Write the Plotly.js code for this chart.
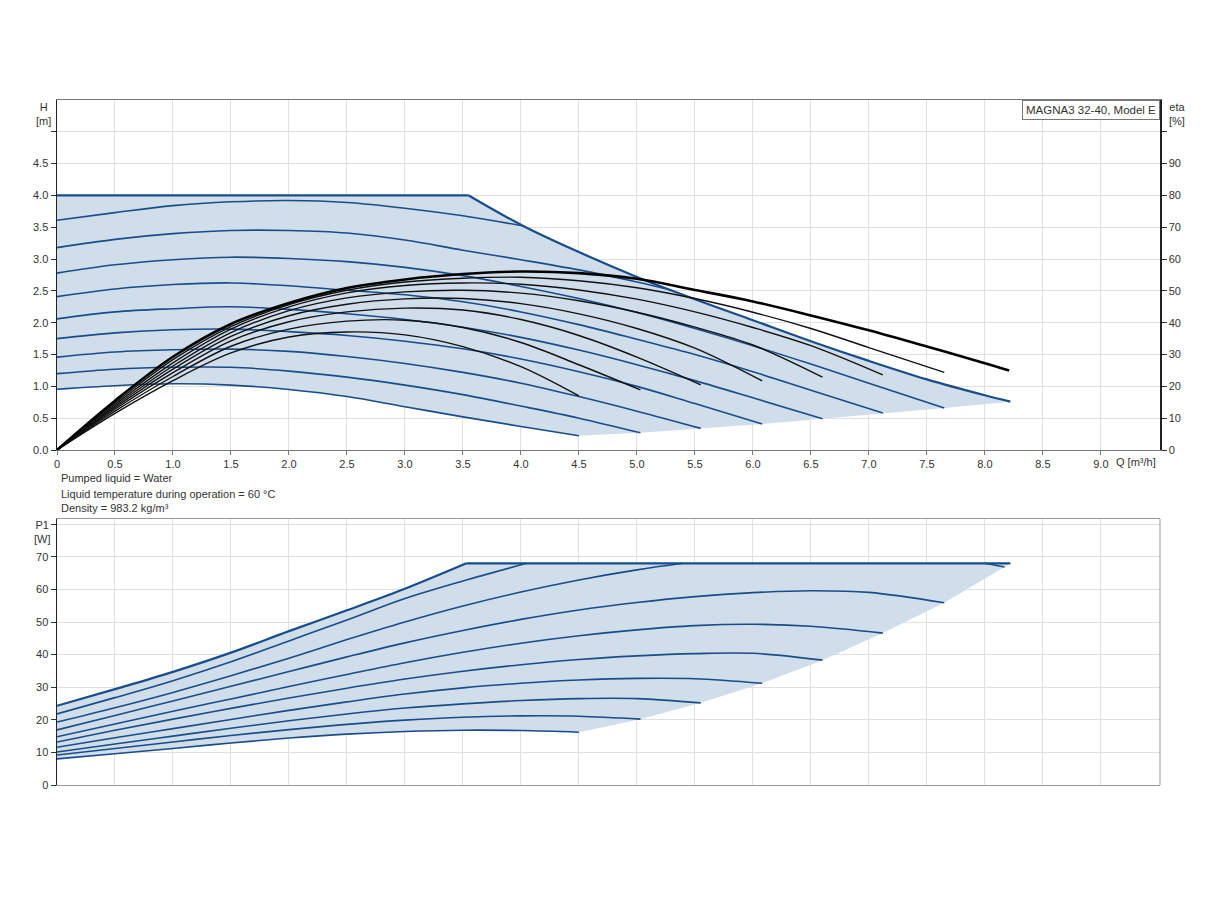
<!DOCTYPE html>
<html>
<head>
<meta charset="utf-8">
<script src="https://cdn.plot.ly/plotly-3.0.1.min.js"></script>
<style>
  html, body { margin: 0; padding: 0; background: #fff; }
  #myDiv { width: 1224px; height: 900px; }
</style>
</head>
<body>
<div id="myDiv"></div>
<script>
// flow points shared by the speed curves (m3/h)
var qS1 = [0, 0.5, 1, 1.5, 2, 2.5, 3, 3.5, 4, 4.5];
var qS2 = [0, 0.5, 1, 1.5, 2, 2.5, 3, 3.5, 4, 4.5, 5.03];
var qS3 = [0, 0.5, 1, 1.5, 2, 2.5, 3, 3.5, 4, 4.5, 5, 5.55];
var qS4 = [0, 0.5, 1, 1.5, 2, 2.5, 3, 3.5, 4, 4.5, 5, 5.5, 6.08];
var qS5 = [0, 0.5, 1, 1.5, 2, 2.5, 3, 3.5, 4, 4.5, 5, 5.5, 6, 6.6];
var qS6 = [0, 0.5, 1, 1.5, 2, 2.5, 3, 3.5, 4, 4.5, 5, 5.5, 6, 6.5, 7.12];
var qS7 = [0, 0.5, 1, 1.5, 2, 2.5, 3, 3.5, 4, 4.5, 5, 5.5, 6, 6.5, 7, 7.65];

// head H [m]
var h1 = [0.955, 1.01, 1.04, 1.02, 0.95, 0.84, 0.68, 0.52, 0.37, 0.225];
var h2 = [1.20, 1.27, 1.30, 1.30, 1.24, 1.145, 1.02, 0.87, 0.69, 0.50, 0.27];
var h3 = [1.46, 1.54, 1.575, 1.585, 1.55, 1.47, 1.36, 1.22, 1.05, 0.84, 0.61, 0.34];
var h4 = [1.75, 1.84, 1.89, 1.90, 1.86, 1.80, 1.71, 1.59, 1.43, 1.23, 1.00, 0.73, 0.41];
var h5 = [2.06, 2.17, 2.22, 2.25, 2.21, 2.14, 2.05, 1.93, 1.77, 1.57, 1.34, 1.09, 0.82, 0.49];
var h6 = [2.41, 2.53, 2.60, 2.625, 2.58, 2.51, 2.44, 2.33, 2.17, 1.97, 1.74, 1.50, 1.23, 0.94, 0.58];
var h7 = [2.78, 2.91, 2.99, 3.03, 3.01, 2.96, 2.87, 2.74, 2.57, 2.38, 2.16, 1.91, 1.64, 1.35, 1.05, 0.66];
var qH8 = [0, 0.5, 1, 1.5, 2, 2.5, 3, 3.5, 4, 4.5, 5, 5.3];
var h8 = [3.18, 3.31, 3.40, 3.45, 3.45, 3.41, 3.30, 3.14, 2.99, 2.83, 2.64, 2.51];
var qH9 = [0, 0.5, 1, 1.5, 2, 2.5, 3, 3.5, 4.02];
var h9 = [3.61, 3.73, 3.84, 3.90, 3.92, 3.89, 3.80, 3.68, 3.52];
var qEnvH = [0, 3.55, 4.02, 4.5, 5, 5.5, 6, 6.5, 7, 7.5, 8, 8.22];
var hEnv = [4, 4, 3.52, 3.11, 2.72, 2.37, 2.04, 1.71, 1.40, 1.11, 0.86, 0.76];

// efficiency eta [%]
var e1 = [0, 11.5, 21.8, 30.5, 35.5, 37.1, 36.2, 32.5, 26.2, 17.0];
var e2 = [0, 12.2, 23.1, 32.6, 38.0, 40.5, 40.8, 38.5, 33.8, 26.8, 18.9];
var e3 = [0, 12.8, 24.3, 34.3, 40.3, 43.4, 44.6, 44.0, 41.0, 36.0, 29.2, 20.5];
var e4 = [0, 13.3, 25.4, 35.7, 42.2, 45.8, 47.5, 47.6, 46.0, 42.8, 38.2, 32.0, 21.7];
var e5 = [0, 13.8, 26.4, 36.9, 43.8, 47.8, 49.7, 50.2, 49.3, 46.9, 43.3, 38.6, 33.0, 22.9];
var e6 = [0, 14.3, 27.4, 38.0, 45.0, 49.4, 51.7, 52.5, 52.1, 50.3, 47.4, 43.4, 38.5, 32.8, 23.6];
var e7 = [0, 14.8, 28.4, 38.8, 45.7, 50.2, 52.8, 54.0, 54.3, 53.2, 51.0, 47.6, 43.3, 38.2, 32.2, 24.4];
var qE8 = [0, 0.5, 1, 1.5, 2, 2.5, 3, 3.5, 4, 4.5, 5, 5.5, 6, 6.5, 7, 7.5, 8, 8.21];
var e8 = [0, 15.5, 29.3, 39.6, 46.2, 50.9, 53.6, 55.3, 56.1, 55.6, 53.8, 50.3, 46.7, 42.3, 37.6, 32.5, 27.3, 25.0];

// power input P1 [W]
var p1 = [8.0, 9.6, 11.2, 12.9, 14.4, 15.6, 16.4, 16.8, 16.7, 16.2];
var p2 = [9.2, 11.2, 13.2, 15.2, 17.0, 18.6, 19.9, 20.8, 21.2, 21.1, 20.2];
var p3 = [10.1, 12.6, 15.0, 17.4, 19.7, 21.8, 23.6, 24.9, 25.9, 26.5, 26.5, 25.2];
var p4 = [11.6, 14.5, 17.3, 20.1, 22.9, 25.5, 27.9, 29.8, 31.2, 32.2, 32.7, 32.6, 31.2];
var p5 = [13.2, 16.8, 20.2, 23.5, 26.7, 29.7, 32.5, 34.9, 36.9, 38.5, 39.6, 40.3, 40.4, 38.3];
var p6 = [14.8, 18.7, 22.6, 26.4, 30.2, 33.9, 37.5, 40.7, 43.5, 45.8, 47.6, 48.9, 49.3, 48.7, 46.6];
var p7 = [16.9, 21.3, 25.8, 30.3, 34.8, 39.3, 43.6, 47.4, 50.8, 53.7, 56.0, 57.8, 59.0, 59.6, 59.1, 55.9];
var qP8 = [0, 0.5, 1, 1.5, 2, 2.5, 3, 3.5, 4, 4.5, 5, 5.4];
var p8 = [19.3, 23.7, 28.4, 33.5, 38.9, 44.6, 50.0, 54.9, 59.2, 62.9, 66.0, 68.0];
var qP8tail = [8.0, 8.17];
var p8tail = [68.0, 66.9];
var qP9 = [0, 0.5, 1, 1.5, 2, 2.5, 3, 3.5, 4.05];
var p9 = [21.8, 26.8, 32.0, 37.8, 44.2, 50.6, 57.2, 62.6, 68.0];
var qEnvP = [0, 0.5, 1, 1.5, 2, 2.5, 3, 3.53, 8.22];
var pEnv = [24.3, 29.4, 34.7, 40.6, 47.2, 53.6, 60.2, 68.0, 68.0];

// tick labels
var qTicks = [0, 0.5, 1, 1.5, 2, 2.5, 3, 3.5, 4, 4.5, 5, 5.5, 6, 6.5, 7, 7.5, 8, 8.5, 9];
var qTickText = ['0', '0.5', '1.0', '1.5', '2.0', '2.5', '3.0', '3.5', '4.0', '4.5', '5.0', '5.5', '6.0', '6.5', '7.0', '7.5', '8.0', '8.5', '9.0'];
var hTicks = [0, 0.5, 1, 1.5, 2, 2.5, 3, 3.5, 4, 4.5, 5];
var hTickText = ['0.0', '0.5', '1.0', '1.5', '2.0', '2.5', '3.0', '3.5', '4.0', '4.5', ''];
var etaTicks = [0, 10, 20, 30, 40, 50, 60, 70, 80, 90, 100];
var etaTickText = ['0', '10', '20', '30', '40', '50', '60', '70', '80', '90', ''];
var pTicks = [0, 10, 20, 30, 40, 50, 60, 70, 80];
var pTickText = ['0', '10', '20', '30', '40', '50', '60', '70', ''];

var BLUE = '#1a4c88';
var FILL = 'rgba(208,221,234,1)';
var GRID = '#e0e0e0';

function last(a) { return a[a.length - 1]; }
function rev(a) { return a.slice().reverse(); }

// shaded working area, built from the curves above
var topFillQ = qEnvH.concat([qS7, qS6, qS5, qS4, qS3, qS2].map(last), rev(qS1));
var topFillH = hEnv.concat([h7, h6, h5, h4, h3, h2].map(last), rev(h1));
var botFillQ = qEnvP.concat([last(qP8tail)], [qS7, qS6, qS5, qS4, qS3, qS2].map(last), rev(qS1));
var botFillP = pEnv.concat([last(p8tail)], [p7, p6, p5, p4, p3, p2].map(last), rev(p1));

var data = [];

data.push({x: topFillQ, y: topFillH, xaxis: 'x', yaxis: 'y', type: 'scatter', mode: 'lines',
  fill: 'toself', fillcolor: FILL, line: {width: 0, color: FILL}, hoverinfo: 'skip'});
data.push({x: botFillQ, y: botFillP, xaxis: 'x2', yaxis: 'y3', type: 'scatter', mode: 'lines',
  fill: 'toself', fillcolor: FILL, line: {width: 0, color: FILL}, hoverinfo: 'skip'});

function curve(x, y, xa, ya, color, width, shape) {
  return {x: x, y: y, xaxis: xa, yaxis: ya, type: 'scatter', mode: 'lines',
    line: {color: color, width: width, shape: shape || 'spline'}, hoverinfo: 'skip'};
}

// H curves
var hq = [qS1, qS2, qS3, qS4, qS5, qS6, qS7, qH8, qH9];
var hv = [h1, h2, h3, h4, h5, h6, h7, h8, h9];
for (var i = 0; i < hq.length; i++) {
  data.push(curve(hq[i], hv[i], 'x', 'y', BLUE, 1.6));
}
// max curve: flat head limit, then the power limited part
data.push(curve(qEnvH.slice(0, 2), hEnv.slice(0, 2), 'x', 'y', BLUE, 2.2, 'linear'));
data.push(curve(qEnvH.slice(1), hEnv.slice(1), 'x', 'y', BLUE, 2.2));

// P1 curves
var pq = [qS1, qS2, qS3, qS4, qS5, qS6, qS7, qP8, qP9];
var pv = [p1, p2, p3, p4, p5, p6, p7, p8, p9];
for (var j = 0; j < pq.length; j++) {
  data.push(curve(pq[j], pv[j], 'x2', 'y3', BLUE, 1.6));
}
data.push(curve(qP8tail, p8tail, 'x2', 'y3', BLUE, 1.6, 'linear'));
data.push(curve(qEnvP.slice(0, 8), pEnv.slice(0, 8), 'x2', 'y3', BLUE, 2.2));
data.push(curve(qEnvP.slice(7), pEnv.slice(7), 'x2', 'y3', BLUE, 2.2, 'linear'));

// eta curves (right axis)
var eq = [qS1, qS2, qS3, qS4, qS5, qS6, qS7];
var ev = [e1, e2, e3, e4, e5, e6, e7];
for (var k = 0; k < eq.length; k++) {
  data.push(curve(eq[k], ev[k], 'x', 'y2', '#111', 1.4));
}
data.push(curve(qE8, e8, 'x', 'y2', '#000', 2.6));

// pixel -> paper helpers for the fixed texts
function px(x) { return (x - 57) / 1103; }
function py(y) { return (785 - y) / 685; }

var txt = {family: 'Liberation Sans, Arial, sans-serif', size: 11, color: '#333'};

var layout = {
  width: 1224,
  height: 900,
  margin: {l: 57, r: 64, t: 100, b: 115, pad: 0},
  paper_bgcolor: '#fff',
  plot_bgcolor: '#fff',
  showlegend: false,
  font: txt,
  xaxis: {domain: [0, 1], anchor: 'y', range: [0, 9.51], tickvals: qTicks, ticktext: qTickText,
    showgrid: true, gridcolor: GRID, zeroline: false, showline: true, linecolor: '#777', mirror: true,
    ticks: 'outside', ticklen: 4, tickcolor: '#777', tickfont: txt},
  yaxis: {domain: [0.48905, 1], anchor: 'x', range: [0, 5.5], tickvals: hTicks, ticktext: hTickText,
    showgrid: true, gridcolor: GRID, zeroline: false, showline: true, linecolor: '#222', linewidth: 1.5,
    ticks: 'outside', ticklen: 5, tickcolor: '#333', tickfont: txt},
  yaxis2: {overlaying: 'y', side: 'right', anchor: 'x', range: [0, 110], tickvals: etaTicks, ticktext: etaTickText,
    showgrid: false, zeroline: false, showline: true, linecolor: '#222', linewidth: 1.5,
    ticks: 'outside', ticklen: 5, tickcolor: '#333', tickfont: txt},
  xaxis2: {domain: [0, 1], anchor: 'y3', range: [0, 9.51], tickvals: qTicks, showticklabels: false,
    showgrid: true, gridcolor: GRID, zeroline: false, showline: true, linecolor: '#999', mirror: true, ticks: ''},
  yaxis3: {domain: [0, 0.38832], anchor: 'x2', range: [0, 81.6], tickvals: pTicks, ticktext: pTickText,
    showgrid: true, gridcolor: GRID, zeroline: false, showline: true, linecolor: '#222', linewidth: 1.5,
    ticks: 'outside', ticklen: 5, tickcolor: '#333', tickfont: txt},
  shapes: [
    {type: 'line', xref: 'paper', yref: 'paper', x0: 1, x1: 1, y0: 0, y1: 0.38832,
      line: {color: '#999', width: 1}}
  ],
  annotations: [
    {text: 'H<br>[m]', x: px(43), y: py(99), xref: 'paper', yref: 'paper', xanchor: 'center', yanchor: 'top', showarrow: false, font: txt},
    {text: 'eta<br>[%]', x: px(1177), y: py(99), xref: 'paper', yref: 'paper', xanchor: 'center', yanchor: 'top', showarrow: false, font: txt},
    {text: 'Q [m³/h]', x: px(1114), y: py(462), xref: 'paper', yref: 'paper', xanchor: 'left', yanchor: 'middle', showarrow: false, font: txt},
    {text: 'P1<br>[W]', x: px(42), y: py(517), xref: 'paper', yref: 'paper', xanchor: 'center', yanchor: 'top', showarrow: false, font: txt},
    {text: 'Pumped liquid = Water', x: px(59), y: py(478), xref: 'paper', yref: 'paper', xanchor: 'left', yanchor: 'middle', showarrow: false, font: txt},
    {text: 'Liquid temperature during operation = 60 °C', x: px(59), y: py(493.5), xref: 'paper', yref: 'paper', xanchor: 'left', yanchor: 'middle', showarrow: false, font: txt},
    {text: 'Density = 983.2 kg/m³', x: px(59), y: py(508), xref: 'paper', yref: 'paper', xanchor: 'left', yanchor: 'middle', showarrow: false, font: txt},
    {text: 'MAGNA3 32-40, Model E', x: 1, y: 1, xref: 'paper', yref: 'paper', xanchor: 'right', yanchor: 'top', showarrow: false,
      font: {family: 'Liberation Sans, Arial, sans-serif', size: 11.5, color: '#333'},
      bgcolor: '#fff', bordercolor: '#777', borderwidth: 1, borderpad: 3}
  ]
};

Plotly.newPlot('myDiv', data, layout, {staticPlot: true, displayModeBar: false});
</script>
</body>
</html>
